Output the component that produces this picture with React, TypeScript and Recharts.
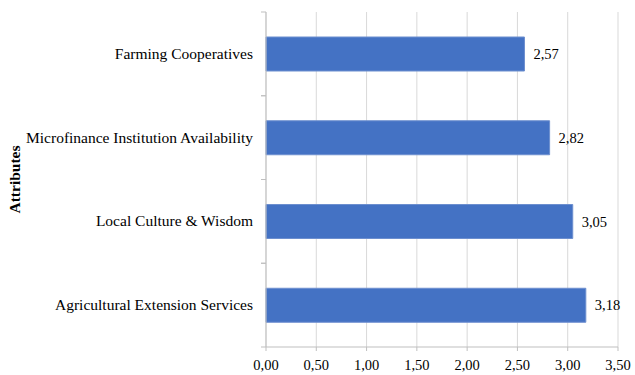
import React from 'react';
import {
  Bar,
  BarChart,
  CartesianGrid,
  LabelList,
  XAxis,
  YAxis,
} from 'recharts';

const attributes = [
  'Farming Cooperatives',
  'Microfinance Institution Availability',
  'Local Culture & Wisdom',
  'Agricultural Extension Services',
];
const scores = [2.57, 2.82, 3.05, 3.18];
const xTicks = [0, 0.5, 1, 1.5, 2, 2.5, 3, 3.5];

const data = attributes.map((name, i) => ({ name, score: scores[i] }));

const FONT = 'Liberation Serif';
const AXIS_COLOR = '#bfbfbf';
const BAND = 83.75;

const fmt = (v: number) => v.toFixed(2).replace('.', ',');

const CategoryTick = (props: any) => {
  const { x, y, payload } = props;
  const axisX = x + 13;
  return (
    <g>
      <line x1={axisX - 5} x2={axisX} y1={y - BAND / 2} y2={y - BAND / 2} stroke={AXIS_COLOR} />
      <line x1={axisX - 5} x2={axisX} y1={y + BAND / 2} y2={y + BAND / 2} stroke={AXIS_COLOR} />
      <text x={x} y={y} dy={5} textAnchor="end" fontFamily={FONT} fontSize={15.5} fill="#000">
        {payload.value}
      </text>
    </g>
  );
};

export default function App() {
  return (
    <div style={{ position: 'absolute', left: 0, top: 0, background: '#fff' }}>
      <BarChart
        width={635}
        height={375}
        data={data}
        layout="vertical"
        barSize={34}
        margin={{ top: 12, right: 17, bottom: 0, left: 0 }}
      >
        <CartesianGrid horizontal={false} stroke="#d9d9d9" />
        <XAxis
          type="number"
          domain={[0, 3.5]}
          ticks={xTicks}
          interval={0}
          height={28}
          tickFormatter={fmt}
          axisLine={{ stroke: AXIS_COLOR }}
          tickLine={{ stroke: AXIS_COLOR }}
          tickSize={4}
          tickMargin={9}
          tick={{ fontFamily: FONT, fontSize: 14.5, fill: '#000' }}
        />
        <YAxis
          type="category"
          dataKey="name"
          width={266}
          tickLine={false}
          tickSize={6}
          tickMargin={7}
          axisLine={{ stroke: AXIS_COLOR }}
          tick={<CategoryTick />}
          label={{
            value: 'Attributes',
            angle: -90,
            position: 'insideLeft',
            offset: 14,
            style: { fontFamily: FONT, fontSize: 15.5, fontWeight: 'bold', fill: '#000', textAnchor: 'middle' },
          }}
        />
        <Bar dataKey="score" fill="#4472C4" stroke="#6d8fcf" strokeWidth={1} isAnimationActive={false}>
          <LabelList
            dataKey="score"
            position="right"
            offset={9}
            formatter={(v: any) => fmt(Number(v))}
            style={{ fontFamily: FONT, fontSize: 14.5, fill: '#000' }}
          />
        </Bar>
      </BarChart>
    </div>
  );
}
